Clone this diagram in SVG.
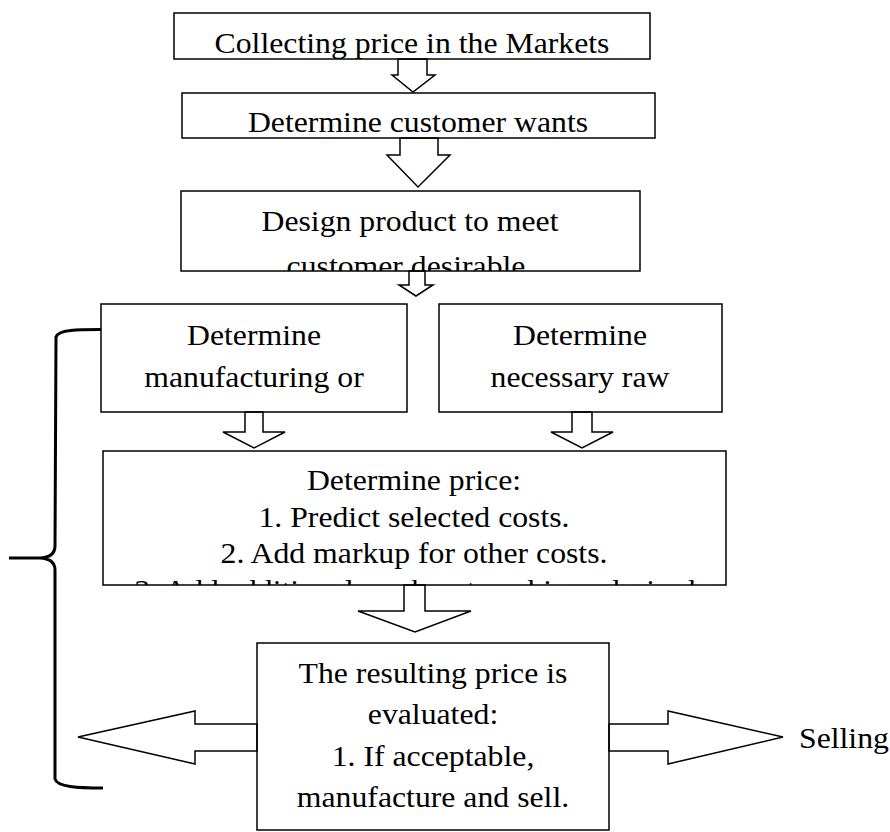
<svg xmlns="http://www.w3.org/2000/svg" width="890" height="832" viewBox="0 0 890 832">
<style>
.box{fill:none;stroke:#000;stroke-width:1.5}
.arr{fill:#fff;stroke:#000;stroke-width:1.5;stroke-linejoin:miter}
.brace{fill:none;stroke:#000;stroke-width:3;stroke-linecap:butt}
.t{font-family:"Liberation Serif","Times New Roman",serif;font-size:29px;fill:#000;text-anchor:middle}
</style>
<defs>
<clipPath id="clip3"><rect x="182" y="192" width="457" height="79"/></clipPath>
<clipPath id="clip6"><rect x="104" y="452" width="621" height="133"/></clipPath>
</defs>
<rect width="890" height="832" fill="#fff"/>

<g id="connectors">
<polygon class="arr" points="398,59 427,59 427,75 435,75 413,92 392,75 398,75"/>
<polygon class="arr" points="400,138 438,138 438,155 450,155 418,187 387,155 400,155"/>
<polygon class="arr" points="409,271 425,271 425,285 433,285 416,296 399,285 409,285"/>
<polygon class="arr" points="245,412 263,412 263,432 285,432 254,448 223,432 245,432"/>
<polygon class="arr" points="572,412 592,412 592,432 613,432 582,448 551,432 572,432"/>
<polygon class="arr" points="404,585 425,585 425,611 471,611 415,632 358,611 404,611"/>
<polygon class="arr" points="257,724 195,724 195,711 78,737 195,764 195,751 257,751"/>
<polygon class="arr" points="609,724 668,724 668,711 783,737 668,764 668,751 609,751"/>
<path class="brace" d="M101,329.5 C78,329.5 58,329.5 56,337 L55,546 C55,554 50,557.5 40,558 L9,558 M40,558 C50,558.5 55,562 55,570 L55,779 C57,787 78,788 103,788"/>
</g>

<g id="n1">
<text class="t" transform="translate(412,53) scale(1.095,1)">Collecting price in the Markets</text>
<rect class="box" x="174" y="13" width="476" height="46"/>
</g>

<g id="n2">
<text class="t" transform="translate(418,132) scale(1.095,1)">Determine customer wants</text>
<rect class="box" x="182" y="93" width="473" height="45"/>
</g>

<g id="n3">
<g clip-path="url(#clip3)">
<text class="t" transform="translate(410,231) scale(1.095,1)">Design product to meet</text>
<text class="t" transform="translate(406,276) scale(1.095,1)">customer desirable</text>
</g>
<rect class="box" x="181" y="191" width="459" height="80"/>
</g>

<g id="n4">
<text class="t" transform="translate(254,345) scale(1.095,1)">Determine</text>
<text class="t" transform="translate(254,387) scale(1.095,1)">manufacturing or</text>
<rect class="box" x="101" y="304" width="306" height="108"/>
</g>

<g id="n5">
<text class="t" transform="translate(580,345) scale(1.095,1)">Determine</text>
<text class="t" transform="translate(580,387) scale(1.095,1)">necessary raw</text>
<rect class="box" x="439" y="304" width="283" height="108"/>
</g>

<g id="n6">
<g clip-path="url(#clip6)">
<text class="t" transform="translate(414,490) scale(1.095,1)">Determine price:</text>
<text class="t" transform="translate(414,527) scale(1.095,1)">1. Predict selected costs.</text>
<text class="t" transform="translate(414,563) scale(1.095,1)">2. Add markup for other costs.</text>
<text class="t" transform="translate(415,600) scale(1.095,1)">3. Add additional markup to achieve desired</text>
</g>
<rect class="box" x="103" y="451" width="623" height="134"/>
</g>

<g id="n7">
<text class="t" transform="translate(433,683) scale(1.095,1)">The resulting price is</text>
<text class="t" transform="translate(433,724) scale(1.095,1)">evaluated:</text>
<text class="t" transform="translate(433,766) scale(1.095,1)">1. If acceptable,</text>
<text class="t" transform="translate(433,807) scale(1.095,1)">manufacture and sell.</text>
<rect class="box" x="257" y="643" width="352" height="187"/>
</g>

<g id="n8">
<text class="t" style="text-anchor:start" transform="translate(799,748) scale(1.095,1)">Selling</text>
</g>
</svg>
